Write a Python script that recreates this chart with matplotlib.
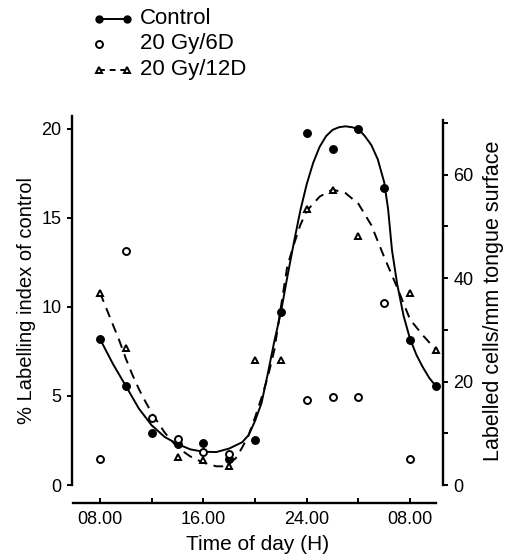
import numpy as np
import matplotlib
matplotlib.use('Agg')
import matplotlib.pyplot as plt
from matplotlib.lines import Line2D

plt.rcParams['font.family'] = ['Liberation Sans', 'DejaVu Sans']

# Measured points (hour of day, % labelling index of control)
ctrl_h = [8, 10, 12, 14, 16, 18, 20, 22, 24, 26, 28, 30, 32, 34]
ctrl_v = [8.2, 5.56, 2.9, 2.3, 2.36, 1.46, 2.53, 9.72, 19.8, 18.9, 20.0, 16.7, 8.15, 5.56]

d6_h = [8, 10, 12, 14, 16, 18, 24, 26, 28, 30, 32]
d6_v = [1.46, 13.15, 3.76, 2.6, 1.85, 1.74, 4.78, 4.94, 4.94, 10.2, 1.46]

d12_h = [8, 10, 14, 16, 18, 20, 22, 24, 26, 28, 32, 34]
d12_v = [10.8, 7.7, 1.57, 1.4, 1.07, 7.0, 7.0, 15.5, 16.6, 14.0, 10.8, 7.6]

# Hand-fitted curves as drawn in the figure
ctrl_fit_h = [8, 9, 10, 11, 12, 13, 14, 15, 16, 17, 18, 19, 19.5, 20, 20.5, 21, 21.5, 22,
              22.5, 23, 23.5, 24, 24.5, 25, 25.5, 26, 26.5, 27, 27.5, 28, 28.5, 29, 29.5,
              30, 30.3, 30.6, 31, 31.5, 32, 32.5, 33, 33.5, 34]
ctrl_fit_v = [8.2, 6.8, 5.56, 4.3, 3.35, 2.7, 2.3, 2.0, 1.87, 1.85, 2.05, 2.4, 2.8, 3.6, 4.6,
              6.3, 8.1, 9.7, 11.7, 13.6, 15.4, 16.9, 18.1, 19.0, 19.6, 19.95, 20.1, 20.15,
              20.1, 20.0, 19.6, 19.1, 18.3, 17.0, 15.5, 13.2, 11.3, 9.5, 8.2, 7.3, 6.6, 6.0, 5.56]

d12_fit_h = [8, 8.5, 9, 9.5, 10, 10.5, 11, 11.5, 12, 13, 14, 15, 16, 17, 17.5, 18, 18.5, 19,
             19.5, 20, 20.5, 21, 21.5, 22, 22.5, 23, 23.5, 24, 25, 26, 27, 28, 29, 30, 31,
             32, 33, 34]
d12_fit_v = [10.8, 9.9, 9.0, 8.1, 7.1, 6.2, 5.4, 4.7, 4.05, 2.95, 2.1, 1.6, 1.25, 1.05, 1.05,
             1.2, 1.5, 2.1, 2.8, 3.8, 4.9, 6.1, 7.6, 10.0, 12.3, 13.5, 14.6, 15.4, 16.2, 16.6,
             16.4, 15.8, 14.6, 12.8, 11.1, 9.3, 8.4, 7.6]

xticks = [8, 16, 24, 32]
xticklabels = ['08.00', '16.00', '24.00', '08.00']
xminor = [12, 20, 28]

fig = plt.figure(figsize=(5.06, 5.6), dpi=100)
ax = fig.add_axes([72/506, 75/560, 371/506, 369/560])

ax.plot(ctrl_fit_h, ctrl_fit_v, '-k', lw=1.4)
ax.plot(d12_fit_h, d12_fit_v, '--k', lw=1.4, dashes=(5, 3.5))
ax.plot(ctrl_h, ctrl_v, 'o', color='k', ms=5.4, clip_on=False)
ax.plot(d6_h, d6_v, 'o', mfc='white', mec='k', mew=1.4, ms=5, clip_on=False)
ax.plot(d12_h, d12_v, '^', mfc='white', mec='k', mew=1.4, ms=5, clip_on=False)

ax.set_xlim(5.83, 34.55)
ax.set_ylim(0, 20.73)
ax.spines['top'].set_visible(False)
ax.spines['right'].set_visible(False)
ax.spines['bottom'].set_position(('outward', 13))
ax.spines['bottom'].set_bounds(5.91, 34.0)
for s in ['left', 'bottom']:
    ax.spines[s].set_linewidth(1.7)

ax.set_xticks(xticks)
ax.set_xticklabels(xticklabels)
ax.set_xticks(xminor, minor=True)
ax.tick_params(axis='x', which='both', direction='in', length=3.5, width=1.4, labelsize=13, pad=6)
ax.set_yticks([0, 5, 10, 15, 20])
ax.tick_params(axis='y', which='both', direction='out', length=3.5, width=1.4, labelsize=13, pad=4)
ax.set_xlabel('Time of day (H)', fontsize=15, labelpad=5)
ax.set_ylabel('% Labelling index of control', fontsize=14.5, labelpad=4)

# Right-hand axis: labelled cells per mm of tongue surface
ax2 = ax.twinx()
ax2.set_ylim(0, 20.73 * 3.44)
for s in ['top', 'left', 'bottom']:
    ax2.spines[s].set_visible(False)
ax2.spines['right'].set_linewidth(1.7)
ax2.spines['right'].set_bounds(0, 70.5)
ax2.set_yticks([0, 20, 40, 60])
ax2.set_yticks([10, 30, 50, 70], minor=True)
ax2.tick_params(axis='y', which='both', direction='out', length=3.5, width=1.4, labelsize=13, pad=4)
ax2.set_ylabel('Labelled cells/mm tongue surface', fontsize=15.5, labelpad=7)

# Legend drawn in the top-left corner
leg_y = [19, 44, 70]
leg_txt = ['Control', '20 Gy/6D', '20 Gy/12D']
fx = lambda px: px / 506
fy = lambda py: 1 - py / 560
fig.add_artist(Line2D([fx(99), fx(127)], [fy(leg_y[0])] * 2, color='k', lw=1.4,
                      marker='o', ms=5, transform=fig.transFigure))
fig.add_artist(Line2D([fx(99)], [fy(leg_y[1])], color='k', ls='none', marker='o',
                      mfc='white', mew=1.4, ms=5, transform=fig.transFigure))
fig.add_artist(Line2D([fx(99), fx(127)], [fy(leg_y[2])] * 2, color='k', lw=1.4, ls='--',
                      dashes=(3, 2.5), marker='^', mfc='white', mew=1.4, ms=5,
                      transform=fig.transFigure))
for y, t in zip(leg_y, leg_txt):
    fig.text(fx(140), fy(y), t, fontsize=16, va='center', ha='left')

fig.savefig('out.png', dpi=100)
